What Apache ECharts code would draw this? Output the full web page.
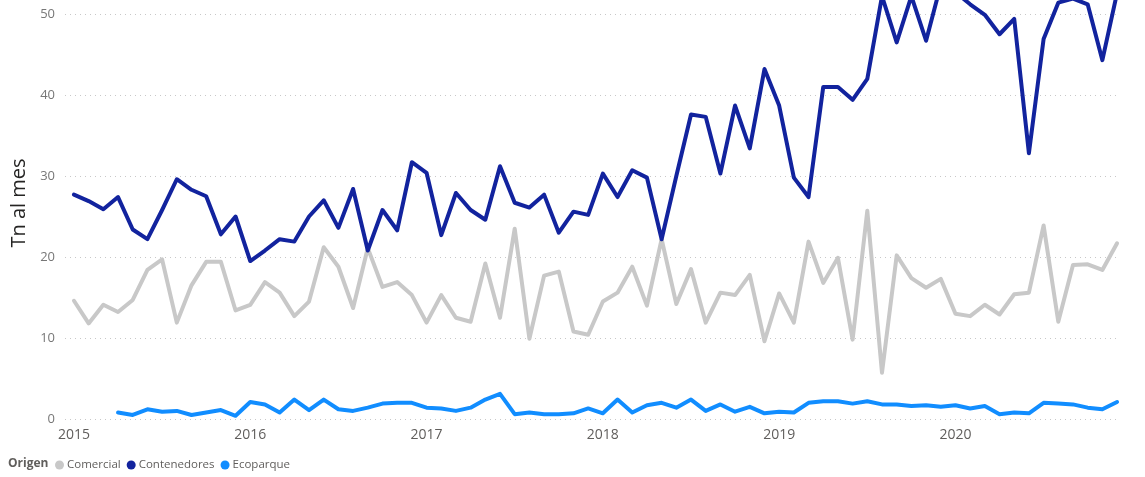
<!DOCTYPE html>
<html>
<head>
<meta charset="utf-8">
<script src="https://cdn.jsdelivr.net/npm/echarts@6/dist/echarts.min.js"></script>
<style>
  html, body { margin: 0; padding: 0; background: #ffffff; }
  #chart { width: 1145px; height: 477px; }
</style>
</head>
<body>
<div id="chart"></div>
<script>
// Months Jan 2015 .. Dec 2020
const years = ['2015', '2016', '2017', '2018', '2019', '2020'];
const months = [];
years.forEach(y => { for (let m = 1; m <= 12; m++) months.push(y + '-' + String(m).padStart(2, '0')); });

const yearTickLabels = ['2015', '2016', '2017', '2018', '2019', '2020'];
const yearTickMonths = ['2015-01', '2016-01', '2017-01', '2018-01', '2019-01', '2020-01'];

const seriesNames = ['Comercial', 'Contenedores', 'Ecoparque'];

const comercial = [14.6, 11.8, 14.1, 13.2, 14.7, 18.4, 19.7, 11.9, 16.5, 19.4,
  19.4, 13.4, 14.1, 16.9, 15.6, 12.7, 14.5, 21.2, 18.8, 13.7,
  21.1, 16.3, 16.9, 15.3, 11.9, 15.3, 12.5, 12.0, 19.2, 12.5,
  23.5, 9.9, 17.7, 18.2, 10.8, 10.4, 14.5, 15.6, 18.8, 14.0,
  22.2, 14.2, 18.5, 11.9, 15.6, 15.3, 17.8, 9.6, 15.5, 11.9,
  21.9, 16.8, 19.9, 9.8, 25.7, 5.7, 20.2, 17.4, 16.2, 17.3,
  13.0, 12.7, 14.1, 12.9, 15.4, 15.6, 23.9, 12.0, 19.0, 19.1, 18.4, 21.7];

const contenedores = [27.7, 26.9, 25.9, 27.4, 23.4, 22.2, 25.8, 29.6, 28.3, 27.5,
  22.8, 25.0, 19.5, 20.8, 22.2, 21.9, 25.0, 27.0, 23.6, 28.4,
  20.8, 25.8, 23.3, 31.7, 30.4, 22.7, 27.9, 25.8, 24.6, 31.2,
  26.7, 26.1, 27.7, 23.0, 25.6, 25.2, 30.3, 27.4, 30.7, 29.8,
  22.2, 30.0, 37.6, 37.3, 30.3, 38.7, 33.4, 43.2, 38.7, 29.8,
  27.4, 41.0, 41.0, 39.4, 42.0, 52.2, 46.5, 52.2, 46.7, 53.6,
  52.7, 51.2, 49.9, 47.5, 49.4, 32.8, 46.9, 51.4, 51.9, 51.2, 44.3, 52.6];

const ecoparque = [null, null, null,
  0.8, 0.5, 1.2, 0.9, 1.0, 0.5, 0.8, 1.1, 0.4, 2.1, 1.8, 0.8, 2.4,
  1.1, 2.4, 1.2, 1.0, 1.4, 1.9, 2.0, 2.0, 1.4, 1.3, 1.0, 1.4, 2.4, 3.1, 0.6, 0.8, 0.6, 0.6, 0.7,
  1.3, 0.7, 2.4, 0.8, 1.7, 2.0, 1.4, 2.4, 1.0, 1.8, 0.9, 1.5, 0.7, 0.9, 0.8, 2.0, 2.2, 2.2, 1.9,
  2.2, 1.8, 1.8, 1.6, 1.7, 1.5, 1.7, 1.3, 1.6, 0.6, 0.8, 0.7, 2.0, 1.9, 1.8, 1.4, 1.2, 2.1];

const yTicks = [0, 10, 20, 30, 40, 50];

const FONT = "'Segoe UI', 'Open Sans', sans-serif";
const colors = ['#C8C8C8', '#12239E', '#118DFF'];

function pairs(arr) {
  const out = [];
  arr.forEach((v, i) => { if (v !== null) out.push([i, v]); });
  return out;
}
const tickIdx = yearTickMonths.map(m => months.indexOf(m));

const chart = echarts.init(document.getElementById('chart'), null, { renderer: 'canvas' });
const option = {
  animation: false,
  backgroundColor: '#ffffff',
  color: colors,
  title: {
    text: 'Origen',
    left: 8, top: 458, padding: 0,
    textStyle: { fontFamily: FONT, fontSize: 12, fontWeight: 'bold', color: '#605E5C' }
  },
  legend: {
    left: 55, top: 459, padding: 0,
    icon: 'circle',
    itemWidth: 9, itemHeight: 9, itemGap: 6,
    data: seriesNames,
    textStyle: { fontFamily: FONT, fontSize: 11.5, color: '#605E5C', padding: [0, 0, 0, -2] }
  },
  graphic: [{
    type: 'text',
    x: 19, y: 203,
    rotation: Math.PI / 2,
    style: {
      text: 'Tn al mes',
      font: "20px 'Segoe UI', 'Open Sans', sans-serif",
      fill: '#252423',
      align: 'center',
      verticalAlign: 'middle'
    }
  }],
  grid: { left: 65, right: 25, top: 14, bottom: 58, containLabel: false },
  xAxis: {
    type: 'value',
    min: -0.61,
    max: 71.2,
    axisLine: { show: false },
    axisTick: { show: false },
    splitLine: { show: false },
    axisLabel: {
      customValues: tickIdx,
      formatter: v => yearTickLabels[tickIdx.indexOf(Math.round(v))] || '',
      margin: 9,
      fontFamily: FONT, fontSize: 14, color: '#605E5C'
    }
  },
  yAxis: {
    type: 'value',
    min: 0, max: 50, interval: 10,
    axisLine: { show: false },
    axisTick: { show: false },
    axisLabel: {
      margin: 10,
      fontFamily: FONT, fontSize: 13, color: '#777777',
      formatter: v => (yTicks.indexOf(v) >= 0 ? String(v) : '')
    },
    splitLine: { show: true, lineStyle: { color: '#C8C8C8', width: 1, type: [1, 4] } }
  },
  series: [
    { name: seriesNames[0], type: 'line', data: pairs(comercial), showSymbol: false, clip: false,
      lineStyle: { width: 4, color: colors[0], join: 'round', cap: 'round' } },
    { name: seriesNames[1], type: 'line', data: pairs(contenedores), showSymbol: false, clip: false,
      lineStyle: { width: 4, color: colors[1], join: 'round', cap: 'round' } },
    { name: seriesNames[2], type: 'line', data: pairs(ecoparque), showSymbol: false, clip: false,
      lineStyle: { width: 4, color: colors[2], join: 'round', cap: 'round' } }
  ]
};
chart.setOption(option);
</script>
</body>
</html>
